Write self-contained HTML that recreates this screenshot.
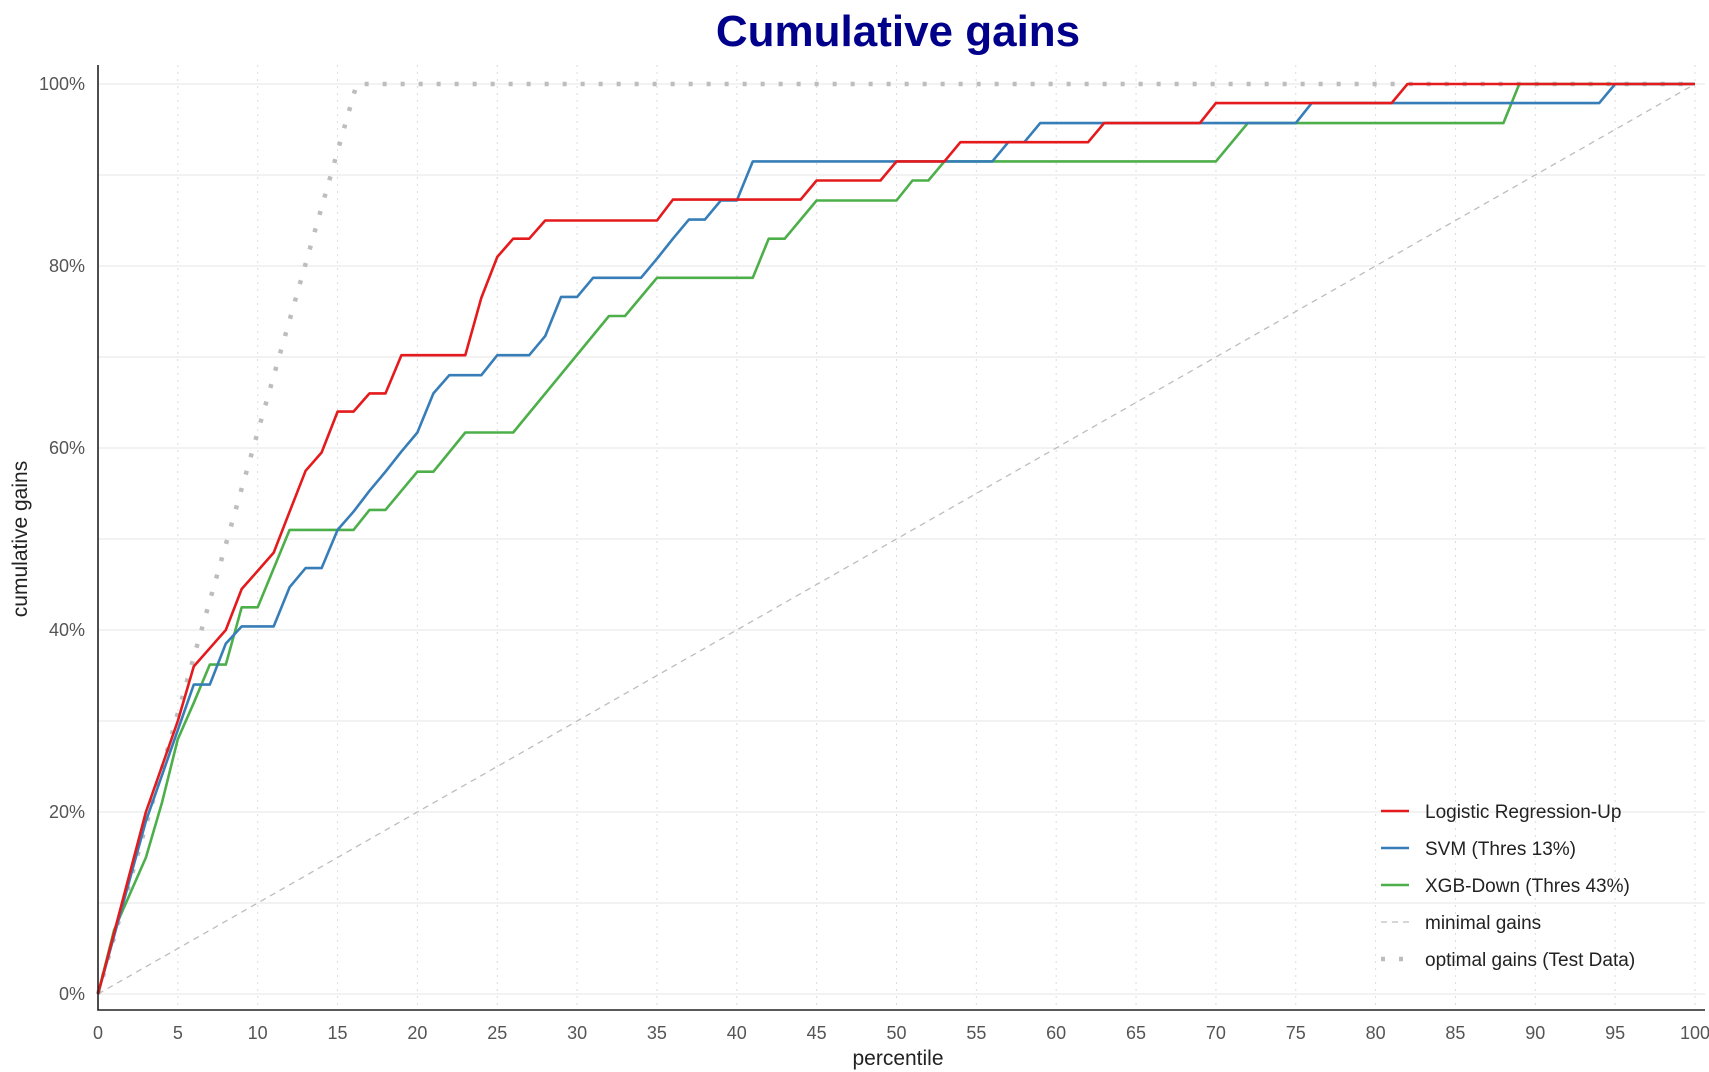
<!DOCTYPE html>
<html><head><meta charset="utf-8"><style>
html,body{margin:0;padding:0;background:#fff;}
svg{display:block;font-family:"Liberation Sans",Arial,sans-serif;}
</style></head><body>
<svg id="chart" width="1709" height="1072" viewBox="0 0 1709 1072">
<text x="898" y="46" text-anchor="middle" font-size="44" font-weight="bold" fill="#00008b">Cumulative gains</text>
<g id="grid"></g>
<g id="series"></g>
<g id="axes"></g>
<text x="898" y="1065" text-anchor="middle" font-size="21" fill="#222">percentile</text>
<text transform="translate(27,539) rotate(-90)" text-anchor="middle" font-size="21" fill="#222">cumulative gains</text>
<g id="legend"></g>
</svg>
<script>
const xTicks=[0,5,10,15,20,25,30,35,40,45,50,55,60,65,70,75,80,85,90,95,100];
const yTicks=[0,20,40,60,80,100];
const yGrid=[0,10,20,30,40,50,60,70,80,90,100];
const lrX=[0,3,4,5,6,7,8,9,10,11,12,13,14,15,16,17,18,19,23,24,25,26,27,28,35,36,44,45,49,50,53,54,62,63,69,70,81,82,100];
const lrY=[0,20,25,30,36,38,40,44.5,46.5,48.5,53,57.5,59.5,64,64,66,66,70.2,70.2,76.5,81,83,83,85,85,87.3,87.3,89.4,89.4,91.5,91.5,93.6,93.6,95.7,95.7,97.9,97.9,100,100];
const svmX=[0,3,5,6,7,8,9,11,12,13,14,15,16,17,18,19,20,21,22,24,25,27,28,29,30,31,34,35,36,37,38,39,40,41,56,57,58,59,75,76,94,95,100];
const svmY=[0,19,29,34,34,38.5,40.4,40.4,44.7,46.8,46.8,51,53,55.3,57.4,59.6,61.7,66,68,68,70.2,70.2,72.3,76.6,76.6,78.7,78.7,80.8,83,85.1,85.1,87.2,87.2,91.5,91.5,93.6,93.6,95.7,95.7,97.9,97.9,100,100];
const xgbX=[0,1,3,4,5,6,7,8,9,10,12,16,17,18,19,20,21,23,26,32,33,35,41,42,43,45,50,51,52,53,70,72,88,89,100];
const xgbY=[0,7,15,21,28,32,36.2,36.2,42.5,42.5,51,51,53.2,53.2,55.3,57.4,57.4,61.7,61.7,74.5,74.5,78.7,78.7,83,83,87.2,87.2,89.4,89.4,91.5,91.5,95.7,95.7,100,100];
const optX=[0,16.2,100];
const optY=[0,100,100];
const minX=[0,100];
const minY=[0,100];
const legendLabels=["Logistic Regression-Up","SVM (Thres 13%)","XGB-Down (Thres 43%)","minimal gains","optimal gains (Test Data)"];

const NS="http://www.w3.org/2000/svg";
const X0=98,X1=1695,Y0=994,Y1=84;
const sx=v=>X0+(X1-X0)*v/100;
const sy=v=>Y0-(Y0-Y1)*v/100;
function mk(tag,attrs,parent){const e=document.createElementNS(NS,tag);for(const k in attrs)e.setAttribute(k,attrs[k]);parent.appendChild(e);return e;}
const grid=document.getElementById('grid'),axes=document.getElementById('axes'),ser=document.getElementById('series'),leg=document.getElementById('legend');
yGrid.forEach(v=>{const l=mk('line',{x1:X0,x2:1705,y1:sy(v),y2:sy(v),stroke:'#ebebeb','stroke-width':1.3},grid);

});
xTicks.forEach(v=>{const l=mk('line',{x1:sx(v),x2:sx(v),y1:65,y2:1010,stroke:'#dcdcdc','stroke-width':1,'stroke-dasharray':'2,5'},grid);


const t=mk('text',{x:sx(v),y:1039,'text-anchor':'middle','font-size':18,fill:'#555'},axes);t.textContent=v;

});
yTicks.forEach(v=>{const t=mk('text',{x:85,y:sy(v)+6,'text-anchor':'end','font-size':18,fill:'#555'},axes);t.textContent=v+'%';

});
const ax=mk('path',{d:`M${X0} 65 V1010 H1705`,fill:'none',stroke:'#222','stroke-width':1.6},axes);


function pts(xs,ys){return xs.map((x,i)=>sx(x).toFixed(1)+','+sy(ys[i]).toFixed(1)).join(' ');}
const mn=mk('polyline',{points:pts(minX,minY),fill:'none',stroke:'#bdbdbd','stroke-width':1.3,'stroke-dasharray':'6,5'},ser);


const op=mk('polyline',{points:pts(optX,optY),fill:'none',stroke:'#bdbdbd','stroke-width':4.5,'stroke-dasharray':'4,14'},ser);


const xg=mk('polyline',{points:pts(xgbX,xgbY),fill:'none',stroke:'#4daf4a','stroke-width':2.6,'stroke-linejoin':'round'},ser);


const sv=mk('polyline',{points:pts(svmX,svmY),fill:'none',stroke:'#377eb8','stroke-width':2.6,'stroke-linejoin':'round'},ser);


const lr=mk('polyline',{points:pts(lrX,lrY),fill:'none',stroke:'#e41a1c','stroke-width':2.6,'stroke-linejoin':'round'},ser);


const lstyles=[{stroke:'#e41a1c','stroke-width':2.6},{stroke:'#377eb8','stroke-width':2.6},{stroke:'#4daf4a','stroke-width':2.6},{stroke:'#bdbdbd','stroke-width':1.3,'stroke-dasharray':'6,5'},{stroke:'#bdbdbd','stroke-width':4.5,'stroke-dasharray':'4,14'}];
legendLabels.forEach((lab,i)=>{const y=811+i*37;
const g=mk('g',{},leg);


mk('line',Object.assign({x1:1381,x2:1409,y1:y,y2:y},lstyles[i]),g);
const t=mk('text',{x:1425,y:y+7,'font-size':19,fill:'#222'},g);t.textContent=lab;});
</script>
</body></html>
